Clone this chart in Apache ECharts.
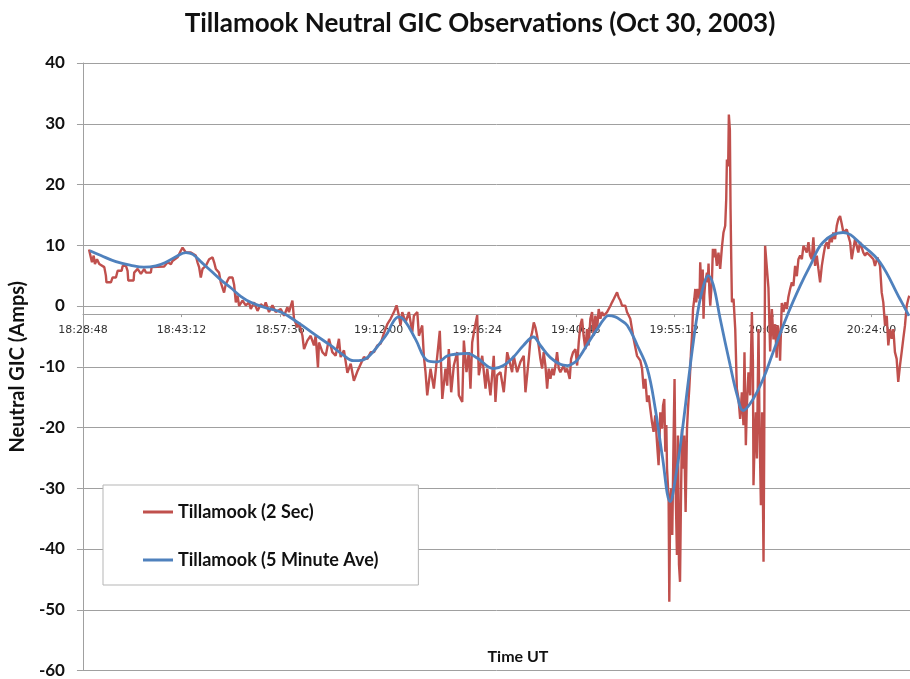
<!DOCTYPE html>
<html>
<head>
<meta charset="utf-8">
<script src="https://cdn.jsdelivr.net/npm/echarts@6/dist/echarts.min.js"></script>
<style>html,body{margin:0;padding:0;background:#fff}#c{width:910px;height:679px}</style>
</head>
<body>
<div id="c"></div>
<script>
// Time in seconds after 18:28:48 UT
const startSeconds = 18 * 3600 + 28 * 60 + 48;
const tickStep = 864;
const xMax = 7250;

const redTime = [
  53,70,79,94,105,123,143,158,187,201,206,245,260,289,304,339,348,377,391,397,
  444,449,479,508,537,552,595,602,712,742,771,785,829,858,873,887,902,946,989,1004,
  1018,1033,1048,1077,1106,1136,1150,1165,1193,1208,1237,1252,1281,1311,1325,1340,1355,1369,
  1398,1427,1456,1471,1500,1530,1559,1587,1602,1631,1661,1690,1734,1763,1792,1806,1836,1850,1880,1894,
  1924,1938,1967,1996,2025,2040,2060,2069,2099,2128,2157,2186,2215,2244,2259,2288,2318,2347,2375,2405,
  2434,2463,2493,2522,2551,2580,2609,2638,2668,2697,
  2726,2749,2770,2784,2799,2828,2857,2887,2901,2931,2945,2974,2988,3003,3018,3047,3076,3106,3128,3150,
  3178,3193,3207,3228,3251,3281,3295,3325,3339,3362,3382,3397,3412,3432,3456,3470,3500,3529,3544,3572,
  3601,3616,3631,3660,3689,3719,3748,3762,3776,3806,3835,3864,3879,3908,
  3923,3938,3952,3966,3981,3995,4010,4025,4039,4054,4069,4083,4098,4113,4127,4142,4156,4171,4185,4214,
  4229,4244,4267,4279,4297,4317,4332,4346,4360,4375,4389,4404,4419,4433,4448,4463,4477,4492,4507,4521,
  4536,4550,4565,4594,4624,4638,4653,4667,4682,4696,4711,4726,4755,4769,4798,4827,4857,
  4886,4901,4915,4930,4945,4959,4973,4988,5002,5017,5032,5046,5055,5061,5076,5085,5096,5105,5114,5120,
  5134,5140,5148,5157,5166,5177,5186,5195,5207,5216,5225,5234,5242,5251,5260,5271,5283,5295,5304,5315,
  5324,5330,5339,5348,5359,5368,5376,5388,5405,
  5411,5420,5426,5433,5440,5446,5455,5470,5477,5484,5492,5499,5514,5522,5534,5542,5557,5571,5586,5601,
  5615,5630,5639,5645,5656,5662,5671,5677,5683,5689,5703,5718,5732,5747,5761,5776,5790,5799,5811,5820,
  5834,5849,5864,5873,5878,5887,5899,5908,5922,5931,5943,5954,5966,5972,5980,5992,6009,6024,6039,6053,
  6068,6081,6091,6103,6111,6126,6141,6155,6170,6184,6199,6214,6228,6243,6258,6272,6287,
  6302,6316,6331,6345,6360,6374,6389,6403,6418,6433,6447,6462,6477,6491,6506,6521,6535,6549,6564,6578,
  6593,6608,6622,6637,6652,6666,6696,6710,6725,6739,6754,6768,6783,6797,6812,6841,6856,6871,6900,6929,
  6943,6964,6987,7002,7016,7031,7046,7060,7075,7090,7104,7118,7133,7147,7162,7177,7191,7206,7221,7235,7244
];
const redGIC = [
  9.3,9.1,7.2,8.3,6.9,7.7,6.9,6.6,6.4,5.0,3.9,3.9,4.7,4.7,5.8,5.8,6.6,6.6,5.8,4.2,
  4.2,5.5,6.1,5.3,6.1,5.5,5.5,6.4,6.5,7.2,6.9,7.4,8.0,9.1,9.6,9.9,8.8,8.8,8.3,7.2,
  6.4,4.7,6.1,6.6,7.7,8.0,7.2,6.1,5.5,3.9,2.2,3.6,4.7,4.7,3.5,0.6,1.7,0.0,
  0.9,0.1,0.6,-0.5,0.6,-0.8,0.3,-0.2,0.6,-1.0,0.1,-1.0,-0.5,-1.6,-0.2,-1.0,0.9,-2.1,-3.5,-2.7,
  -4.9,-7.1,-5.7,-4.9,-6.5,-4.9,-10.1,-6.0,-7.6,-8.2,-5.4,-7.6,-8.2,-5.4,-8.4,-7.3,-11.0,-9.5,-12.3,-10.8,
  -9.6,-8.4,-8.7,-7.6,-7.6,-6.5,-6.2,-4.5,-3.0,-2.1,
  -1.0,0.1,-1.6,-3.2,-1.0,-2.7,-1.0,-4.3,-1.6,-1.0,-4.9,-3.2,-8.2,-10.9,-14.7,-10.3,-13.6,-8.2,-4.1,-15.3,
  -10.3,-13.1,-7.1,-14.2,-9.8,-7.6,-14.7,-15.8,-5.7,-10.9,-7.6,-13.6,-6.0,-3.8,-1.5,-11.4,-8.2,-13.6,-10.3,-14.7,
  -8.2,-15.8,-11.4,-10.9,-14.2,-7.6,-9.8,-10.9,-8.2,-10.9,-9.2,-8.2,-14.2,-8.7,
  -5.4,-4.3,-2.7,-3.5,-4.9,-6.5,-8.7,-10.3,-7.6,-9.8,-13.6,-10.3,-12.0,-10.3,-11.4,-9.8,-7.6,-10.3,-10.9,-9.8,
  -10.9,-10.3,-12.0,-8.7,-7.6,-7.1,-9.8,-6.0,-3.2,-2.1,-4.9,-7.1,-3.8,-6.5,-2.1,-1.0,-4.9,-1.6,-3.8,-0.5,
  -2.1,-1.0,-1.6,-1.0,0.05,0.6,1.15,1.7,2.25,1.4,0.9,0.05,0.05,-1.0,-2.1,-5.4,-8.2,
  -9.0,-10.3,-13.6,-12.0,-15.8,-14.7,-16.9,-19.1,-20.7,-18.0,-22.4,-26.2,-21.3,-17.5,-20.2,-16.4,-15.3,-24.0,-19.6,-26.8,
  -31.7,-48.7,-32.2,-30.0,-37.7,-22.4,-12.0,-29.5,-41.0,-21.3,-42.6,-45.4,-32.2,-20.2,-26.8,-21.3,-33.9,-20.2,-16.9,-13.6,
  -10.3,-7.6,-4.9,-0.5,1.15,2.8,0.6,2.8,1.2,
  7.2,3.3,1.2,6.0,-2.1,1.7,3.9,5.5,3.9,7.0,2.2,0.05,4.4,9.4,8.0,9.4,6.6,8.8,6.1,9.6,
  12.1,13.2,17.6,24.1,23.0,31.5,29.0,15.9,7.7,0.6,1.2,-3.8,-13.6,-15.3,-18.6,-14.2,-19.6,-7.6,-22.9,-16.4,
  -10.9,-14.7,-1.0,-9.2,-29.5,-22.9,-17.5,-25.1,-3.8,-20.2,-32.8,-17.5,-42.1,-22.9,9.9,9.9,3.0,-7.5,-0.5,-5.5,
  -3.0,-8.5,-3.2,-5.0,-9.0,0.5,-1.0,0.6,-0.5,1.5,2.8,3.9,3.3,6.6,4.9,7.7,8.3,
  7.7,9.9,9.4,8.8,10.5,8.3,7.7,11.3,6.6,8.3,6.1,3.9,6.6,8.3,9.9,10.5,9.4,11.5,10.5,12.1,
  11.0,13.2,14.3,14.8,13.5,12.1,12.6,11.5,10.5,7.7,9.4,11.0,9.9,8.8,10.5,8.8,8.3,8.8,8.3,7.7,
  6.6,8.0,6.6,2.2,0.6,-3.2,-1.6,-6.5,-3.8,-5.4,-3.8,-7.6,-8.7,-12.5,-9.8,-7.6,-5.4,-3.2,0.05,1.15,1.7
];

const blueTime = [
  61,158,289,420,534,639,727,814,902,963,1033,1121,1208,1296,1383,1471,1585,1734,1883,2040,
  2171,2277,2373,2452,2522,2609,2671,2723,2767,2828,2916,3021,3108,3196,3284,3371,3459,3599,3686,3774,
  3861,3949,4010,4098,4185,4247,4317,4360,4448,4509,4562,4606,4667,4711,4772,4860,4947,5017,5078,5148,
  5201,5254,5306,5350,5394,5438,5481,5525,5586,5674,5735,5788,5875,5963,6050,6173,6287,6374,6488,6663,
  6838,6987,7162,7241
];
const blueGIC = [
  9.1,8.3,7.3,6.7,6.4,6.6,7.2,8.1,8.8,8.5,7.3,5.8,4.3,3.0,1.6,0.6,-0.2,-1.0,-2.7,-4.8,
  -6.5,-8.0,-9.0,-8.9,-8.0,-6.0,-4.4,-2.5,-1.8,-2.6,-5.5,-9.0,-9.2,-8.2,-7.9,-7.8,-8.6,-10.3,-9.8,-8.4,
  -6.5,-5.1,-6.5,-8.5,-9.6,-9.8,-9.2,-8.2,-5.5,-3.8,-2.3,-1.6,-1.8,-2.3,-3.2,-6.5,-10.3,-16.9,-24.6,-32.2,
  -27.5,-20.5,-12.5,-6.0,-0.5,3.2,5.0,3.5,-2.1,-9.8,-14.7,-17.2,-15.3,-12.0,-7.6,-1.6,3.3,6.6,10.5,12.1,
  9.9,7.2,1.15,-1.6
];

const yTicks = { min: -60, max: 40, step: 10 };
const titleText = 'Tillamook Neutral GIC Observations (Oct 30, 2003)';
const yName = 'Neutral GIC (Amps)';
const xName = 'Time UT';
const seriesNames = ['Tillamook (2 Sec)', 'Tillamook (5 Minute Ave)'];

function pad(n) { return (n < 10 ? '0' : '') + n; }
function fmt(v) {
  const s = startSeconds + v;
  return pad(Math.floor(s / 3600)) + ':' + pad(Math.floor((s % 3600) / 60)) + ':' + pad(s % 60);
}

const FONT = 'Lato, "Open Sans", sans-serif';
const chart = echarts.init(document.getElementById('c'), null, { renderer: 'canvas' });
const option = {
  animation: false,
  backgroundColor: '#fff',
  title: {
    text: titleText, left: 475, top: 6, textAlign: 'center',
    textStyle: { fontFamily: FONT, fontWeight: 'bold', fontSize: 26, color: '#111' }
  },
  grid: { left: 82, right: 0, top: 63, bottom: 7, containLabel: false },
  legend: {
    orient: 'vertical', left: 103, top: 485,
    padding: [18, 40, 16, 40], itemGap: 30,
    itemWidth: 30, itemHeight: 3, icon: 'rect',
    backgroundColor: '#fff', borderColor: '#b5b5b5', borderWidth: 1,
    textStyle: { fontFamily: FONT, fontWeight: 'bold', fontSize: 18, color: '#111' },
    data: seriesNames
  },
  graphic: [{
    type: 'text', x: 518, y: 657,
    style: { text: xName, textAlign: 'center', textVerticalAlign: 'middle',
      font: 'bold 16px ' + FONT, fill: '#111' }
  }],
  xAxis: {
    type: 'value', min: 0, max: xMax, interval: tickStep, offset: 0,
    axisLine: { onZero: false, lineStyle: { color: '#a0a0a0', width: 1 } },
    axisTick: { show: true, length: 3, lineStyle: { color: '#a0a0a0' } },
    axisLabel: { formatter: fmt, showMaxLabel: false, fontFamily: 'DejaVu Sans', fontSize: 11, color: '#333', margin: 11 },
    splitLine: { show: false }
  },
  yAxis: {
    type: 'value', min: yTicks.min, max: yTicks.max, interval: yTicks.step,
    name: yName, nameLocation: 'middle', nameRotate: 90, nameGap: 51,
    nameTextStyle: { fontFamily: FONT, fontWeight: 'bold', fontSize: 20, color: '#111' },
    axisLine: { show: true, lineStyle: { color: '#a0a0a0' } },
    axisTick: { show: true, length: 6, lineStyle: { color: '#a0a0a0' } },
    axisLabel: { fontFamily: FONT, fontWeight: 'bold', fontSize: 17, color: '#111', margin: 18 },
    splitLine: { show: true, lineStyle: { color: '#a0a0a0', width: 1 } }
  },
  series: [
    {
      name: seriesNames[0], type: 'line', symbol: 'none',
      data: redTime.map((t, i) => [t, redGIC[i]]),
      lineStyle: { color: '#C0504D', width: 2.4 }, itemStyle: { color: '#C0504D' }
    },
    {
      name: seriesNames[1], type: 'line', symbol: 'none', smooth: 0.4,
      data: blueTime.map((t, i) => [t, blueGIC[i]]),
      lineStyle: { color: '#4F81BD', width: 2.8 }, itemStyle: { color: '#4F81BD' }
    }
  ]
};
chart.setOption(option);
// Move the time axis up so it crosses the value axis at 0
const yZero = chart.convertToPixel({ yAxisIndex: 0 }, 0);
const yBottom = chart.convertToPixel({ yAxisIndex: 0 }, yTicks.min);
chart.setOption({ xAxis: { offset: -(yBottom - yZero) } });
</script>
</body>
</html>
